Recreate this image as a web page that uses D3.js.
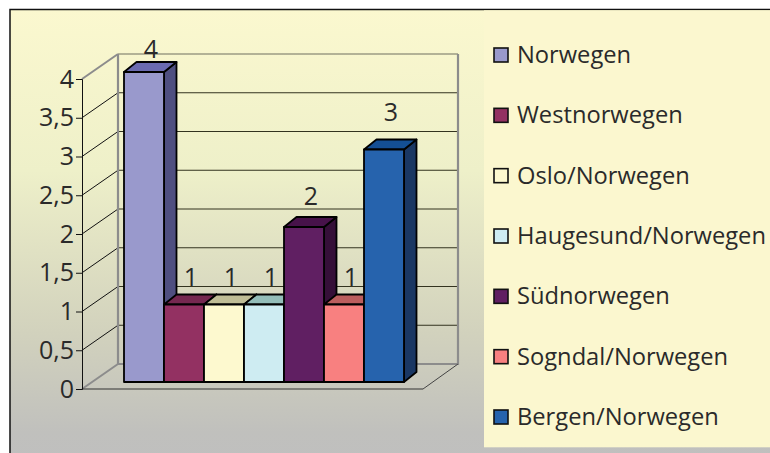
<!DOCTYPE html>
<html>
<head>
<meta charset="utf-8">
<script src="https://cdn.jsdelivr.net/npm/d3@7"></script>
<style>
  html, body { margin: 0; padding: 0; background: #fff; }
  svg { display: block; }
  text { font-family: "Open Sans", "Noto Sans", sans-serif; fill: #2a2a2a; }
</style>
</head>
<body>
<svg id="chart" width="770" height="453"></svg>
<script>
const categories = ["Norwegen", "Westnorwegen", "Oslo/Norwegen", "Haugesund/Norwegen", "Südnorwegen", "Sogndal/Norwegen", "Bergen/Norwegen"];
const values = [4, 1, 1, 1, 2, 1, 3];
const tickValues = [0, 0.5, 1, 1.5, 2, 2.5, 3, 3.5, 4];
const frontColors = ["#9999cc", "#933162", "#fdf9cf", "#ceecf2", "#601f62", "#f88080", "#2663ad"];
const sideColors = ["#4f4f80", "#4f4f80", "#fdf9cf", "#ceecf2", "#350f38", "#f88080", "#1a3763"];
const topColors = ["#6b6bb0", "#752850", "#bfbd96", "#93bdb9", "#47124a", "#bc5e5e", "#144f94"];

const svg = d3.select("#chart");

const defs = svg.append("defs");
const grad = defs.append("linearGradient")
  .attr("id", "bg")
  .attr("x1", 0).attr("y1", 0).attr("x2", 0).attr("y2", 1);
grad.append("stop").attr("offset", "0%").attr("stop-color", "#fbf8cf");
grad.append("stop").attr("offset", "35%").attr("stop-color", "#eef0c9");
grad.append("stop").attr("offset", "70%").attr("stop-color", "#d2d2bd");
grad.append("stop").attr("offset", "92%").attr("stop-color", "#c0c0bd");
grad.append("stop").attr("offset", "100%").attr("stop-color", "#bfbfbf");

// frame
svg.append("rect")
  .attr("x", 10).attr("y", 9.5)
  .attr("width", 770).attr("height", 460)
  .attr("fill", "url(#bg)")
  .attr("stroke", "#111")
  .attr("stroke-width", 1.5);

const y = d3.scaleLinear().domain([0, 4]).range([389, 79]);
const x = d3.scaleBand().domain(categories).range([124, 404]);

// 3d offsets
const wallDx = 36, wallDy = -25;
const barDy = -7;
const depthX = 12.5, depthY = -10;

const gray = "#8c8c8c";

// side wall and back wall gridlines
const grid = svg.append("g");
grid.selectAll(".side")
  .data(tickValues.slice(1, -1))
  .join("line")
  .attr("class", "side")
  .attr("x1", 82).attr("y1", d => y(d))
  .attr("x2", 82 + wallDx).attr("y2", d => y(d) + wallDy)
  .attr("stroke", "#111").attr("stroke-width", 1);
grid.selectAll(".back")
  .data(tickValues.slice(1, -1))
  .join("line")
  .attr("class", "back")
  .attr("x1", 82 + wallDx).attr("y1", d => y(d) + wallDy)
  .attr("x2", 458).attr("y2", d => y(d) + wallDy)
  .attr("stroke", "#33331f").attr("stroke-width", 1);

// walls
svg.append("line")
  .attr("x1", 82 + wallDx).attr("y1", y(4) + wallDy).attr("x2", 458).attr("y2", y(4) + wallDy)
  .attr("stroke", "#6f6f60").attr("stroke-width", 1.2);
svg.append("path")
  .attr("d", `M${82 + wallDx},${y(4) + wallDy}V${y(0) + wallDy}H458V${y(4) + wallDy}`)
  .attr("fill", "none").attr("stroke", gray).attr("stroke-width", 2.2);
svg.append("line")
  .attr("x1", 82).attr("y1", y(4)).attr("x2", 82 + wallDx).attr("y2", y(4) + wallDy)
  .attr("stroke", gray).attr("stroke-width", 2);
svg.append("line")
  .attr("x1", 82).attr("y1", y(0)).attr("x2", 82 + wallDx).attr("y2", y(0) + wallDy)
  .attr("stroke", gray).attr("stroke-width", 2);

// floor
svg.append("line")
  .attr("x1", 82).attr("y1", y(0)).attr("x2", 423).attr("y2", y(0))
  .attr("stroke", "#333").attr("stroke-width", 1);
svg.append("line")
  .attr("x1", 423).attr("y1", y(0)).attr("x2", 458).attr("y2", y(0) + wallDy)
  .attr("stroke", "#444").attr("stroke-width", 1);

// axis
const axis = svg.append("g")
  .attr("transform", "translate(82,0)")
  .call(d3.axisLeft(y)
    .tickValues(tickValues)
    .tickSize(6)
    .tickPadding(2)
    .tickFormat(d => String(d).replace(".", ",")));
axis.select(".domain").attr("stroke", "#111");
axis.selectAll(".tick line").attr("stroke", "#111");
axis.selectAll("text")
  .style("font-size", "25px");

// bars, left to right so the later ones cover the earlier sides
const bars = svg.selectAll(".bar")
  .data(values)
  .join("g")
  .attr("class", "bar")
  .attr("stroke", "#000")
  .attr("stroke-width", 1.8)
  .attr("stroke-linejoin", "round");

const bx = (d, i) => x(categories[i]);
const bw = x.bandwidth();
const by = d => y(d) + barDy;

bars.append("polygon")
  .attr("fill", (d, i) => sideColors[i])
  .attr("points", (d, i) => {
    const r = bx(d, i) + bw;
    return [[r, by(d)], [r + depthX, by(d) + depthY], [r + depthX, by(0) + depthY], [r, by(0)]].join(" ");
  });
bars.append("polygon")
  .attr("fill", (d, i) => topColors[i])
  .attr("points", (d, i) => {
    const l = bx(d, i);
    return [[l, by(d)], [l + depthX, by(d) + depthY], [l + bw + depthX, by(d) + depthY], [l + bw, by(d)]].join(" ");
  });
bars.append("rect")
  .attr("fill", (d, i) => frontColors[i])
  .attr("x", bx)
  .attr("y", by)
  .attr("width", bw)
  .attr("height", d => y(0) - y(d));

// value labels, the gap above the bar differs per bar in the original
const labelGaps = [4, 9, 9, 9, 12, 9, 19];
svg.selectAll(".val")
  .data(values)
  .join("text")
  .attr("class", "val")
  .attr("x", (d, i) => bx(d, i) + bw / 2 + 7)
  .attr("y", (d, i) => by(d) + depthY - labelGaps[i])
  .attr("text-anchor", "middle")
  .style("font-size", "25px")
  .text(d => d);

// legend
svg.append("rect")
  .attr("x", 484).attr("y", 10.3)
  .attr("width", 286).attr("height", 437)
  .attr("fill", "#fbf7cf");

const ly = d3.scalePoint().domain(categories).range([55, 417]);
const legend = svg.selectAll(".leg")
  .data(categories)
  .join("g")
  .attr("class", "leg")
  .attr("transform", d => `translate(0,${ly(d)})`);
legend.append("rect")
  .attr("x", 494).attr("y", -7)
  .attr("width", 14).attr("height", 14)
  .attr("fill", (d, i) => frontColors[i])
  .attr("stroke", "#111")
  .attr("stroke-width", 1.6);
legend.append("text")
  .attr("x", 517)
  .attr("y", 8)
  .style("font-size", "23.7px")
  .text(d => d);
</script>
</body>
</html>
